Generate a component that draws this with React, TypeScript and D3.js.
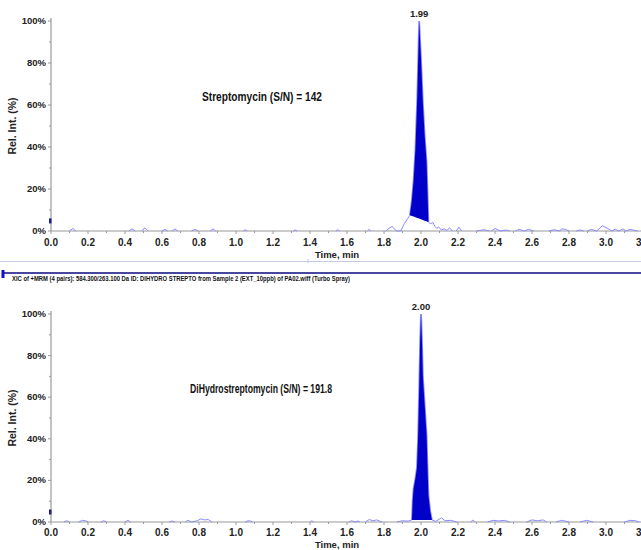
import React from "react";
import * as d3 from "d3";

const W = 641;
const H = 550;
const FONT = "'Liberation Sans Narrow', 'Arial Narrow', 'Liberation Sans', sans-serif";

// ---- axis labels ----
const xTickLabels = ["0.0", "0.2", "0.4", "0.6", "0.8", "1.0", "1.2", "1.4", "1.6", "1.8", "2.0", "2.2", "2.4", "2.6", "2.8", "3.0", "3.2"];
const xMinorTicks = [0.1, 0.3, 0.5, 0.7, 0.9, 1.1, 1.3, 1.5, 1.7, 1.9, 2.1, 2.3, 2.5, 2.7, 2.9, 3.1];
const yTickLabels = ["0%", "20%", "40%", "60%", "80%", "100%"];
const yTickValues = [0, 20, 40, 60, 80, 100];
const yMinorTicks = [10, 30, 50, 70, 90];

const titleText = "XIC of +MRM (4 pairs): 584.300/263.100 Da ID: DIHYDRO STREPTO from Sample 2 (EXT_10ppb) of PA02.wiff (Turbo Spray)";

// ---- Streptomycin (top) ----
const streptoNoise: [number, number][][] = [
  [[0.10, 0], [0.119, 1.2], [0.135, 0]],
  [[0.42, 0], [0.438, 1.0], [0.455, 0]],
  [[0.49, 0], [0.508, 1.5], [0.525, 0]],
  [[0.60, 0], [0.616, 0.8], [0.63, 0]],
  [[0.655, 0], [0.670, 1.0], [0.685, 0]],
  [[0.76, 0], [0.778, 0.8], [0.795, 0]],
  [[0.86, 0], [0.876, 1.0], [0.89, 0]],
  [[1.04, 0], [1.05, 0.6], [1.06, 0]],
  [[1.31, 0], [1.32, 0.5], [1.33, 0]],
  [[1.54, 0], [1.55, 0.6], [1.56, 0]],
  [[1.71, 0], [1.72, 0.8], [1.73, 0]],
  [[1.81, 0], [1.83, 1.5], [1.845, 2.2], [1.855, 1.0], [1.87, 0], [1.89, 0], [1.91, 3.5], [1.925, 5.5], [1.94, 7.5]],
  [[2.04, 4.3], [2.05, 3.5], [2.065, 4.0], [2.075, 2.2], [2.085, 1.2], [2.095, 2.0], [2.11, 0.5], [2.125, 1.0], [2.14, 0.3], [2.155, 1.5], [2.17, 0]],
  [[2.19, 0], [2.205, 1.8], [2.22, 0]],
  [[2.30, 0], [2.34, 0.6], [2.37, 0]],
  [[2.38, 0], [2.40, 1.2], [2.43, 0], [2.46, 0.5], [2.48, 0]],
  [[2.51, 0], [2.53, 0.8], [2.56, 0], [2.58, 0.8], [2.61, 0]],
  [[2.69, 0], [2.72, 0.6], [2.75, 0], [2.76, 1.0], [2.78, 0.8], [2.80, 0]],
  [[2.84, 0], [2.86, 0.5], [2.88, 0]],
  [[2.90, 0], [2.92, 0.8], [2.95, 0], [2.98, 2.5], [3.01, 1.2], [3.03, 0], [3.05, 0.8], [3.07, 0], [3.09, 1.0], [3.11, 0], [3.13, 0.8], [3.17, 0]],
];
const streptoPeak: [number, number][] = [
  [1.94, 7.5], [1.95, 14], [1.96, 24], [1.97, 39], [1.98, 64], [1.99, 100],
  [2.00, 82], [2.01, 61], [2.02, 45], [2.03, 33], [2.035, 19], [2.04, 4.3],
];

// ---- DiHydrostreptomycin (bottom) ----
const dihydroNoise: [number, number][][] = [
  [[0.07, 0], [0.086, 0.6], [0.10, 0]],
  [[0.15, 0], [0.17, 0.8], [0.19, 0.5], [0.20, 0]],
  [[0.27, 0], [0.285, 0.6], [0.30, 0]],
  [[0.40, 0], [0.416, 0.8], [0.43, 0]],
  [[0.64, 0], [0.654, 0.5], [0.67, 0]],
  [[0.725, 0], [0.74, 0.8], [0.76, 0], [0.79, 0.6], [0.81, 1.5], [0.83, 1.0], [0.85, 1.2], [0.87, 0]],
  [[1.05, 0], [1.065, 0.6], [1.08, 0.4], [1.09, 0]],
  [[1.40, 0], [1.41, 0.6], [1.42, 0]],
  [[1.61, 0], [1.625, 0.6], [1.645, 0], [1.66, 0.5], [1.67, 0]],
  [[1.70, 0], [1.72, 1.2], [1.74, 0.6], [1.76, 1.0], [1.79, 0]],
  [[1.87, 0], [1.90, 0.6], [1.93, 0.4], [1.951, 1]],
  [[2.059, 1], [2.08, 0.3], [2.11, 2.0], [2.13, 0.6], [2.16, 0.8], [2.195, 0]],
  [[2.27, 0], [2.28, 1.0], [2.29, 0]],
  [[2.36, 0], [2.39, 0.8], [2.42, 0.5], [2.45, 0.8], [2.48, 0]],
  [[2.57, 0], [2.60, 1.0], [2.63, 0.6], [2.66, 1.0], [2.68, 0]],
  [[2.73, 0], [2.76, 0.8], [2.80, 0]],
  [[2.86, 0], [2.895, 0.8], [2.93, 0]],
  [[3.10, 0], [3.13, 0.8], [3.16, 0.6], [3.18, 0]],
];
const dihydroPeak: [number, number][] = [
  [1.951, 1], [1.955, 10], [1.96, 16], [1.97, 21], [1.978, 26], [1.984, 40],
  [1.99, 63], [1.995, 86], [2.00, 100], [2.005, 88], [2.01, 70], [2.02, 56],
  [2.03, 42], [2.036, 24], [2.04, 13], [2.05, 5], [2.059, 1],
];

const x = d3.scaleLinear().domain([0, 3.2]).range([51, 51 + 3.2 * 185]);

interface PanelProps {
  yBottom: number;
  yTop: number;
  noise: [number, number][][];
  peak: [number, number][];
  peakLabel: string;
  annotation: string;
  annX: number;
  annW: number;
  annY: number;
  xLabelGap: number;
}

function Panel({ yBottom, yTop, noise, peak, peakLabel, annotation, annX, annW, annY, xLabelGap }: PanelProps) {
  const y = d3.scaleLinear().domain([0, 100]).range([yBottom, yTop]);
  const line = d3.line<[number, number]>().x((d) => x(d[0])).y((d) => y(d[1]));
  const p0 = peak[0];
  const p1 = peak[peak.length - 1];
  const base = d3.scaleLinear().domain([p0[0], p1[0]]).range([p0[1], p1[1]]);
  const area = d3
    .area<[number, number]>()
    .x((d) => x(d[0]))
    .y0((d) => y(base(d[0])))
    .y1((d) => y(d[1]));
  const apex = peak.reduce((a, b) => (b[1] > a[1] ? b : a));
  const axisColor = "#9a9a9a";
  return (
    <g>
      {/* axes */}
      <line x1={x(0)} x2={W} y1={yBottom} y2={yBottom} stroke={axisColor} strokeWidth={1.2} />
      <line x1={x(0)} x2={x(0)} y1={yTop - 3} y2={yBottom} stroke={axisColor} strokeWidth={1.2} />
      {xTickLabels.map((lab) => {
        const v = +lab;
        return (
          <g key={lab}>
            <line x1={x(v)} x2={x(v)} y1={yBottom} y2={yBottom + 3} stroke={axisColor} />
            <text x={x(v)} y={yBottom + xLabelGap} textAnchor="middle" fontFamily={FONT} fontWeight="bold" fontSize={10} fill="#222">
              {lab}
            </text>
          </g>
        );
      })}
      {xMinorTicks.map((v) => (
        <line key={v} x1={x(v)} x2={x(v)} y1={yBottom} y2={yBottom + 2} stroke={axisColor} />
      ))}
      {yTickValues.map((v, i) => (
        <g key={v}>
          <line x1={x(0) - 3} x2={x(0)} y1={y(v)} y2={y(v)} stroke={axisColor} />
          <text x={x(0) - 5} y={y(v) + 3} textAnchor="end" fontFamily={FONT} fontWeight="bold" fontSize={9.5} fill="#222">
            {yTickLabels[i]}
          </text>
        </g>
      ))}
      {yMinorTicks.map((v) => (
        <line key={v} x1={x(0) - 2} x2={x(0)} y1={y(v)} y2={y(v)} stroke={axisColor} />
      ))}
      {/* baseline marker */}
      <rect x={x(0) - 2} y={y(6)} width={2.5} height={5} fill="#1a1aa0" />
      {/* y label */}
      <text
        transform={`translate(16,${(yTop + yBottom) / 2}) rotate(-90)`}
        textAnchor="middle"
        fontFamily={FONT}
        fontWeight="bold"
        fontSize={10.5}
        fill="#222"
      >
        Rel. Int. (%)
      </text>
      {/* x label */}
      <text x={337} y={yBottom + xLabelGap + 12} textAnchor="middle" fontFamily={FONT} fontWeight="bold" fontSize={9.5} fill="#222">
        Time, min
      </text>
      {/* trace */}
      {noise.map((seg, i) => (
        <path key={i} d={line(seg) || ""} fill="none" stroke="#8a8aff" strokeWidth={1} />
      ))}
      <path d={line(peak) || ""} fill="none" stroke="#8a8aff" strokeWidth={1.8} />
      <path d={area(peak) || ""} fill="#0000c8" />
      {/* peak label */}
      <text x={x(apex[0])} y={y(apex[1]) - 4} textAnchor="middle" fontFamily={FONT} fontWeight="bold" fontSize={9.5} fill="#222">
        {peakLabel}
      </text>
      {/* annotation */}
      <text x={annX} y={annY} textLength={annW} lengthAdjust="spacingAndGlyphs" fontFamily={FONT} fontWeight="bold" fontSize={12} fill="#111">
        {annotation}
      </text>
    </g>
  );
}

export default function App() {
  return (
    <div style={{ position: "absolute", left: 0, top: 0 }}>
      <svg width={W} height={H} viewBox={`0 0 ${W} ${H}`} style={{ display: "block", background: "#fff" }}>
        <rect x={0} y={0} width={W} height={H} fill="#fff" />
        <Panel
          yBottom={231}
          yTop={21}
          noise={streptoNoise}
          peak={streptoPeak}
          peakLabel="1.99"
          annotation="Streptomycin (S/N) = 142"
          annX={202}
          annW={120}
          annY={101}
          xLabelGap={15}
        />
        {/* separators */}
        <line x1={0} x2={W} y1={261.5} y2={261.5} stroke="#c5c8e6" strokeWidth={1.2} />
        <line x1={308} x2={308} y1={259} y2={263} stroke="#c5c8e6" strokeWidth={1} />
        <line x1={4} x2={W} y1={273} y2={273} stroke="#0a0a80" strokeWidth={1.6} />
        <rect x={1.5} y={270} width={3} height={8} fill="#1010d0" />
        <text x={12} y={280.5} textLength={338} lengthAdjust="spacingAndGlyphs" fontFamily={FONT} fontWeight="bold" fontSize={7.5} fill="#111">
          {titleText}
        </text>
        <Panel
          yBottom={522}
          yTop={314}
          noise={dihydroNoise}
          peak={dihydroPeak}
          peakLabel="2.00"
          annotation="DiHydrostreptomycin (S/N) = 191.8"
          annX={190}
          annW={142}
          annY={393}
          xLabelGap={14}
        />
      </svg>
    </div>
  );
}
